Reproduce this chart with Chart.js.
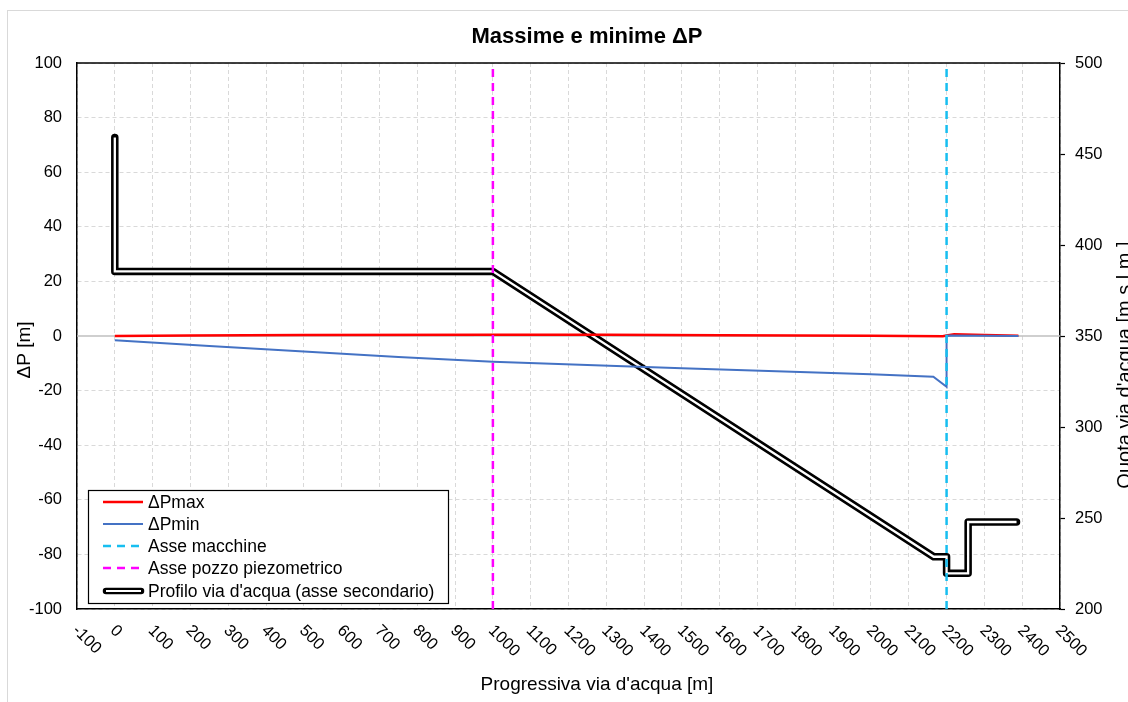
<!DOCTYPE html>
<html><head><meta charset="utf-8">
<script src="https://cdn.jsdelivr.net/npm/chart.js@4/dist/chart.umd.min.js"></script>
<style>html,body{margin:0;padding:0;background:#fff;overflow:hidden}#wrap{width:1128px;height:702px}</style>
</head><body><div id="wrap"><canvas id="c" width="1128" height="702"></canvas></div>
<script>
// ---- data ----
const chartTitle = 'Massime e minime ΔP';
const xTitle = "Progressiva via d'acqua [m]";
const yTitle = 'ΔP [m]';
const y2Title = "Quota via d'acqua [m s.l.m.]";
const seriesNames = ['ΔPmax', 'ΔPmin', 'Asse macchine', 'Asse pozzo piezometrico', "Profilo via d'acqua (asse secondario)"];

const progMax = [0, 200, 500, 1000, 1300, 1600, 2000, 2190, 2200, 2220, 2300, 2390];
const dPmax   = [0, 0.15, 0.35, 0.5, 0.45, 0.3, 0.1, -0.1, 0.2, 0.6, 0.4, 0.1];

const progMin = [0, 250, 500, 750, 1000, 1500, 2000, 2165, 2200, 2200, 2390];
const dPmin   = [-1.6, -3.7, -5.7, -7.7, -9.4, -11.8, -14.0, -14.9, -18.6, 0.2, 0];

const progProfile  = [0, 0, 1000, 2166, 2200, 2200, 2257, 2257, 2385];
const quotaProfile = [459, 385.5, 385.5, 228.7, 228.7, 219.6, 219.6, 247.8, 247.8];

const asseMacchine = 2200;
const assePozzo = 1000;

const xRange = [-100, 2500], xStep = 100;
const yRange = [-100, 100], yStep = 20;
const y2Range = [200, 500], y2Step = 50;

// ---- helpers ----
const pts = (xs, ys) => xs.map((x, i) => ({x: x, y: ys[i]}));
const FONT = '"Liberation Sans", Arial, sans-serif';

const datasets = [
  {label: seriesNames[3], data: [{x: assePozzo, y: yRange[0]}, {x: assePozzo, y: yRange[1]}], yAxisID: 'y',
   borderColor: '#FF00FF', borderWidth: 2.5, borderDash: [8, 6], pointRadius: 0},
  {label: seriesNames[2], data: [{x: asseMacchine, y: yRange[0]}, {x: asseMacchine, y: yRange[1]}], yAxisID: 'y',
   borderColor: '#17BEF0', borderWidth: 2.5, borderDash: [8, 6], pointRadius: 0},
  {label: seriesNames[1], data: pts(progMin, dPmin), yAxisID: 'y', borderColor: '#4472C4', borderWidth: 2, pointRadius: 0},
  {label: seriesNames[0], data: pts(progMax, dPmax), yAxisID: 'y', borderColor: '#FF0000', borderWidth: 2.5, pointRadius: 0},
  {label: seriesNames[4] + ' inner', data: pts(progProfile, quotaProfile), yAxisID: 'y2', borderColor: '#FFFFFF', borderWidth: 2.3,
   pointRadius: 0, borderJoinStyle: 'miter', borderCapStyle: 'butt'},
  {label: seriesNames[4], data: pts(progProfile, quotaProfile), yAxisID: 'y2', borderColor: '#000000', borderWidth: 7.5,
   pointRadius: 0, borderJoinStyle: 'round', borderCapStyle: 'round'}
];

const deco = {
  id: 'deco',
  beforeDraw(chart) {
    const c = chart.ctx;
    c.save();
    c.fillStyle = '#fff'; c.fillRect(0, 0, chart.width, chart.height);
    c.strokeStyle = '#d9d9d9'; c.lineWidth = 1;
    c.strokeRect(7.5, 10.5, 1300, 900);
    c.restore();
  },
  beforeDatasetsDraw(chart) {
    const c = chart.ctx, a = chart.chartArea, y = chart.scales.y.getPixelForValue(0);
    c.save(); c.strokeStyle = '#bfbfbf'; c.lineWidth = 1.5;
    c.beginPath(); c.moveTo(a.left, y); c.lineTo(a.right, y); c.stroke(); c.restore();
  },
  afterDatasetsDraw(chart) {
    const c = chart.ctx, a = chart.chartArea;
    c.save(); c.strokeStyle = '#000'; c.lineWidth = 1.5;
    c.beginPath(); c.moveTo(a.left, a.top); c.lineTo(a.right, a.top); c.stroke(); c.restore();
  },
  afterDraw(chart) {
    const c = chart.ctx, a = chart.chartArea, xs = chart.scales.x;
    c.save();
    // x tick labels rotated 45deg
    c.fillStyle = '#000'; c.font = '16.5px ' + FONT; c.textAlign = 'left'; c.textBaseline = 'middle';
    xs.ticks.forEach(t => {
      const px = xs.getPixelForValue(t.value);
      c.save(); c.translate(px - 2, a.bottom + 19); c.rotate(Math.PI / 4);
      c.fillText(String(t.value), 0, 0); c.restore();
    });
    // title
    c.font = 'bold 22px ' + FONT; c.textAlign = 'center'; c.textBaseline = 'middle';
    c.fillText(chartTitle, 587, 37);
    // axis titles
    c.font = '19px ' + FONT;
    c.fillText(xTitle, 597, 685);
    c.save(); c.translate(25, 350); c.rotate(-Math.PI / 2); c.fillText(yTitle, 0, 0); c.restore();
    c.font = '20px ' + FONT;
    c.save(); c.translate(1125, 365); c.rotate(-Math.PI / 2); c.fillText(y2Title, 0, 0); c.restore();
    // legend
    const lx = 88.5, ly = 490.5, lw = 360, lh = 113;
    c.fillStyle = '#fff'; c.fillRect(lx, ly, lw, lh);
    c.strokeStyle = '#000'; c.lineWidth = 1.2; c.strokeRect(lx, ly, lw, lh);
    const order = [3, 2, 1, 0, 5];
    const rows = [502, 524, 546, 568, 591];
    order.forEach((di, i) => {
      const ds = chart.data.datasets[di], y = rows[i];
      c.save();
      c.lineCap = di === 5 ? 'round' : 'butt';
      c.strokeStyle = ds.borderColor; c.lineWidth = di === 5 ? 6.5 : ds.borderWidth;
      c.setLineDash(ds.borderDash || []);
      c.beginPath(); c.moveTo(di === 5 ? 106 : 103, y); c.lineTo(di === 5 ? 141 : 143, y); c.stroke();
      if (di === 5) {
        const inner = chart.data.datasets[4];
        c.strokeStyle = inner.borderColor; c.lineWidth = 2; c.lineCap = 'butt';
        c.beginPath(); c.moveTo(106, y); c.lineTo(141, y); c.stroke();
      }
      c.restore();
      c.fillStyle = '#000'; c.font = '17.5px ' + FONT; c.textAlign = 'left'; c.textBaseline = 'middle';
      c.fillText(seriesNames[i], 148, y + 1);
    });
    c.restore();
  }
};

new Chart(document.getElementById('c'), {
  type: 'line',
  data: {datasets: datasets},
  plugins: [deco],
  options: {
    responsive: false, animation: false, devicePixelRatio: 1,
    layout: {padding: {top: 63, left: 0, right: 0, bottom: 0}},
    plugins: {legend: {display: false}, title: {display: false}, tooltip: {enabled: false}},
    elements: {line: {tension: 0}},
    scales: {
      x: {type: 'linear', position: 'bottom', min: xRange[0], max: xRange[1],
          ticks: {stepSize: xStep, display: false},
          grid: {color: '#d9d9d9', lineWidth: 1, drawTicks: false},
          border: {color: '#000', width: 1.5, dash: [4, 3]},
          afterFit: s => { s.height = 93; }},
      y: {type: 'linear', position: 'left', min: yRange[0], max: yRange[1],
          ticks: {stepSize: yStep, color: '#000', font: {size: 16.5, family: FONT}, padding: 15},
          grid: {color: ctx => (ctx.tick && ctx.tick.value === 0) ? 'rgba(0,0,0,0)' : '#d9d9d9', lineWidth: 1, drawTicks: false},
          border: {color: '#000', width: 1.5, dash: [4, 3]},
          afterFit: s => { s.width = 77; }},
      y2: {type: 'linear', position: 'right', min: y2Range[0], max: y2Range[1],
          ticks: {stepSize: y2Step, color: '#000', font: {size: 16.5, family: FONT}, padding: 10},
          grid: {drawOnChartArea: false, drawTicks: true, tickLength: 5, tickColor: '#000', tickWidth: 1.2, color: '#000'},
          border: {color: '#000', width: 1.5},
          afterFit: s => { s.width = 68; }}
    }
  }
});
</script></body></html>
